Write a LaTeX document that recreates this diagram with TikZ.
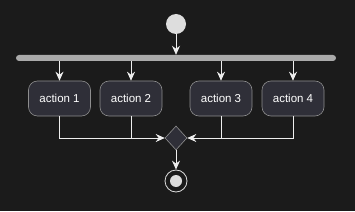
\documentclass[tikz,border=0pt]{standalone}
\usepackage{fontspec}
\setmainfont{Liberation Sans}
\usetikzlibrary{arrows.meta,positioning,calc,shapes.geometric}
\definecolor{Night}{HTML}{1B1B1B}
\definecolor{Ash}{HTML}{DDDDDD}
\definecolor{Steel}{HTML}{AAAAAA}
\definecolor{Slate}{HTML}{2F2F38}
\definecolor{Rim}{HTML}{8E8E8E}
\definecolor{Wire}{HTML}{EEEEEE}

\begin{document}
\begin{tikzpicture}[x=1pt,y=-1pt,every node/.style={font=\fontsize{11.5}{13}\selectfont, align=center},
    actbox/.style={draw=Rim,fill=Slate,text=white,rounded corners=9pt,minimum width=62pt,minimum height=35pt,inner sep=0pt,line width=0.6pt},
    flow/.style={draw=Wire,line width=0.8pt,-{Stealth[length=9pt,width=8pt,inset=3pt]}},
    wire/.style={draw=Wire,line width=0.8pt}]
      \fill[Night] (0,0) rectangle (355,211);
      \useasboundingbox (0,0) rectangle (355,211);

      \node[circle,fill=Ash,minimum size=20pt,inner sep=0pt] (start) at (176,24) {};
      \node[fill=Steel,rounded corners=3pt,minimum width=320pt,minimum height=6pt,inner sep=0pt] (fork) at (176,58) {};

      \node[actbox] (act1) at (59.5,98.5) {action 1};
      \node[actbox] (act2) at (131,98.5) {action 2};
      \node[actbox] (act3) at (221,98.5) {action 3};
      \node[actbox] (act4) at (293,98.5) {action 4};

      \node[diamond,draw=Rim,fill=Slate,minimum width=22pt,minimum height=24pt,inner sep=0pt,line width=0.6pt] (merge) at (176,138) {};

      \node[circle,draw=Ash,fill=Night,minimum size=22pt,inner sep=0pt,line width=0.8pt,
            path picture={\fill[Ash] (path picture bounding box.center) circle (6pt);}] (stop) at (176,181) {};

      \draw[flow] (start) -- (start |- fork.north);
      \foreach \a in {act1,act2,act3,act4}
        \draw[flow] (fork.south -| \a) -- (\a);

      \draw[flow] (act1) |- (merge);
      \draw[wire] (act2.south) -- (act2.south |- merge);
      \draw[flow] (act4) |- (merge);
      \draw[wire] (act3.south) -- (act3.south |- merge);

      \draw[flow] (merge) -- (stop);
    \end{tikzpicture}
\end{document}
